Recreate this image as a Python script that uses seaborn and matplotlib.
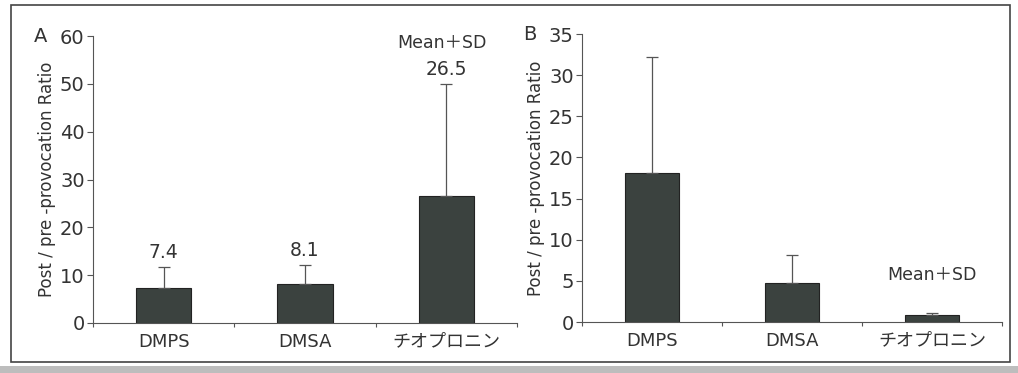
import matplotlib
matplotlib.use("Agg")
import matplotlib.pyplot as plt
import seaborn as sns
import pandas as pd
from matplotlib.patches import Rectangle

sns.set_style("white")
plt.rcParams['font.family'] = ['DejaVu Sans', 'Noto Sans CJK JP']

categories = ["DMPS", "DMSA", "チオプロニン"]
means_a = [7.4, 8.1, 26.5]
sd_a = [4.3, 4.0, 23.5]
labels_a = ["7.4", "8.1", "26.5"]
means_b = [18.1, 4.7, 0.85]
sd_b = [14.1, 3.4, 0.25]
ylabel = "Post / pre -provocation Ratio"
note = "Mean＋SD"

bar_color = "#3b423f"
text_color = "#333333"
fs = 12

fig = plt.figure(figsize=(10.18, 3.73), dpi=100)
axA = fig.add_axes([93/1018, 1-323/373, (517-93)/1018, (323-36)/373])
axB = fig.add_axes([582/1018, 1-322/373, (1002-582)/1018, (322-34)/373])

def draw(ax, means, sds, ymax, step, letter):
    df = pd.DataFrame({"cat": categories, "val": means})
    sns.barplot(data=df, x="cat", y="val", ax=ax, color=bar_color,
                width=0.39, saturation=1, edgecolor="#222222", linewidth=0.8)
    xs = list(range(len(categories)))
    ax.errorbar(xs, means, yerr=[[0]*len(sds), sds], fmt="none",
                ecolor="#555555", elinewidth=0.9, capsize=4.5, capthick=0.9)
    ax.set_xlim(-0.5, 2.5)
    ax.set_ylim(0, ymax)
    ax.set_yticks(range(0, ymax + 1, step))
    ax.tick_params(axis="y", labelsize=14, colors="#555555", labelcolor=text_color,
                   length=4, width=0.8, direction="out", left=True, pad=2)
    ax.set_xticks(xs)
    ax.set_xticks([-0.5, 0.5, 1.5, 2.5], minor=True)
    ax.tick_params(axis="x", which="major", length=0, labelsize=13, labelcolor=text_color, pad=7)
    ax.tick_params(axis="x", which="minor", length=3, width=0.8, color="#555555", bottom=True, direction="out")
    ax.set_xlabel("")
    ax.set_ylabel(ylabel, fontsize=fs, color=text_color, labelpad=3)
    for s in ["top", "right"]:
        ax.spines[s].set_visible(False)
    for s in ["left", "bottom"]:
        ax.spines[s].set_color("#555555")
        ax.spines[s].set_linewidth(0.8)
    ax.text(-0.14, 1.0, letter, transform=ax.transAxes, fontsize=14,
            color=text_color, ha="left", va="center")

draw(axA, means_a, sd_a, 60, 10, "A")
draw(axB, means_b, sd_b, 35, 5, "B")

for i, lab in enumerate(labels_a):
    axA.text(i, means_a[i] + sd_a[i] + 1.0, lab, ha="center", va="bottom",
             fontsize=13.5, color=text_color)
axA.text(1.97, 58.6, note, ha="center", va="center", fontsize=12.5, color=text_color)
axB.text(2.0, 5.7, note, ha="center", va="center", fontsize=12.5, color=text_color)

fig.patches.append(Rectangle((11/1018, 1-362/373), (1010-11)/1018, (362-5)/373,
                             transform=fig.transFigure, fill=False,
                             edgecolor="#444444", linewidth=1.2))
fig.patches.append(Rectangle((0, 0), 1, 7/373, transform=fig.transFigure,
                             facecolor="#bdbdbd", edgecolor="none"))

fig.savefig("out.png", dpi=100)
